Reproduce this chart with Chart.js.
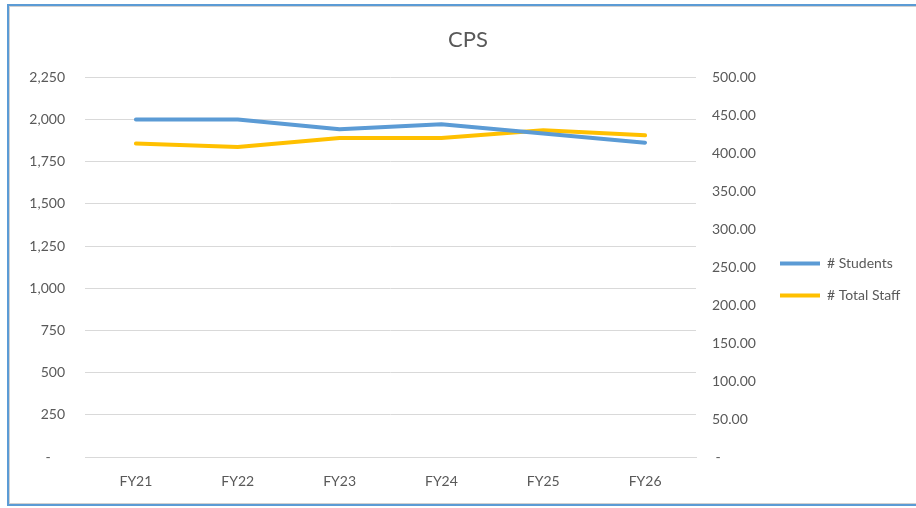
<!DOCTYPE html>
<html>
<head>
<meta charset="utf-8">
<script src="https://cdn.jsdelivr.net/npm/chart.js@4"></script>
<style>
  html, body { margin: 0; padding: 0; background: #fff; overflow: hidden; width: 916px; height: 508px; }
  #frame { position: absolute; left: 7px; top: 4px; width: 940px; height: 498px;
           border-left: 2px solid #5B9BD5; border-top: 2px solid #5B9BD5; border-bottom: 2px solid #5B9BD5; }
  #inner { position: absolute; left: 0; top: 0; right: 0; bottom: 0;
           border-left: 1px solid #d0d0d0; border-top: 1px solid #d0d0d0; border-bottom: 1px solid #d0d0d0; }
  #wrap { position: absolute; left: 10px; top: 7px; width: 916px; height: 495px; }
</style>
</head>
<body>
<div id="frame"><div id="inner"></div></div>
<div id="wrap"><canvas id="c" width="916" height="495"></canvas></div>
<script>
const categories = ['FY21', 'FY22', 'FY23', 'FY24', 'FY25', 'FY26'];
const students = [2000, 2000, 1942, 1972, 1918, 1863];
const totalStaff = [412.8, 408.3, 420.1, 420.2, 430.3, 423.7];
const seriesNames = ['# Students', '# Total Staff'];
const chartTitle = 'CPS';

const FONT = 'Lato, "Open Sans", sans-serif';
const TXT = '#595959';

new Chart(document.getElementById('c'), {
  type: 'line',
  data: {
    labels: categories,
    datasets: [
      { label: seriesNames[0], data: students, yAxisID: 'y',
        borderColor: '#5B9BD5', backgroundColor: '#5B9BD5', borderWidth: 4,
        pointRadius: 0, tension: 0, borderCapStyle: 'round', borderJoinStyle: 'round', pointStyle: 'line' },
      { label: seriesNames[1], data: totalStaff, yAxisID: 'y1',
        borderColor: '#FFC000', backgroundColor: '#FFC000', borderWidth: 4,
        pointRadius: 0, tension: 0, borderCapStyle: 'round', borderJoinStyle: 'round', pointStyle: 'line' }
    ]
  },
  options: {
    responsive: false,
    animation: false,
    layout: { padding: { left: 17, right: 17, top: 0, bottom: 0 } },
    plugins: {
      title: { display: true, text: chartTitle, color: TXT,
               font: { family: FONT, size: 22, weight: 'normal' }, padding: { top: 20, bottom: 24 } },
      legend: { position: 'right', align: 'center',
        title: { display: true, text: '', font: { family: FONT, size: 14 }, padding: { top: 33, bottom: 0 } },
        labels: { usePointStyle: true, pointStyleWidth: 40, color: TXT, padding: 18,
                  font: { family: FONT, size: 14 } } },
      tooltip: { enabled: false }
    },
    scales: {
      x: {
        offset: true,
        grid: { display: false, drawTicks: false },
        border: { display: true, color: '#d9d9d9', width: 1 },
        ticks: { color: TXT, font: { family: FONT, size: 14 }, padding: 16 },
        afterFit: s => { s.height = 45; }
      },
      y: {
        position: 'left', min: 0, max: 2250,
        grid: { color: '#d9d9d9', lineWidth: 1, drawTicks: false },
        border: { display: false },
        ticks: { stepSize: 250, color: TXT, font: { family: FONT, size: 14 }, padding: 20,
                 callback: v => v === 0 ? '-    ' : v.toLocaleString('en-US') },
        afterFit: s => { s.width = 58; }
      },
      y1: {
        position: 'right', min: 0, max: 500,
        grid: { display: false, drawTicks: false },
        border: { display: false },
        ticks: { stepSize: 50, color: TXT, font: { family: FONT, size: 14 }, padding: 16,
                 callback: v => v === 0 ? ' -' : v.toFixed(2) },
        afterFit: s => { s.width = 66; }
      }
    }
  }
});
</script>
</body>
</html>
